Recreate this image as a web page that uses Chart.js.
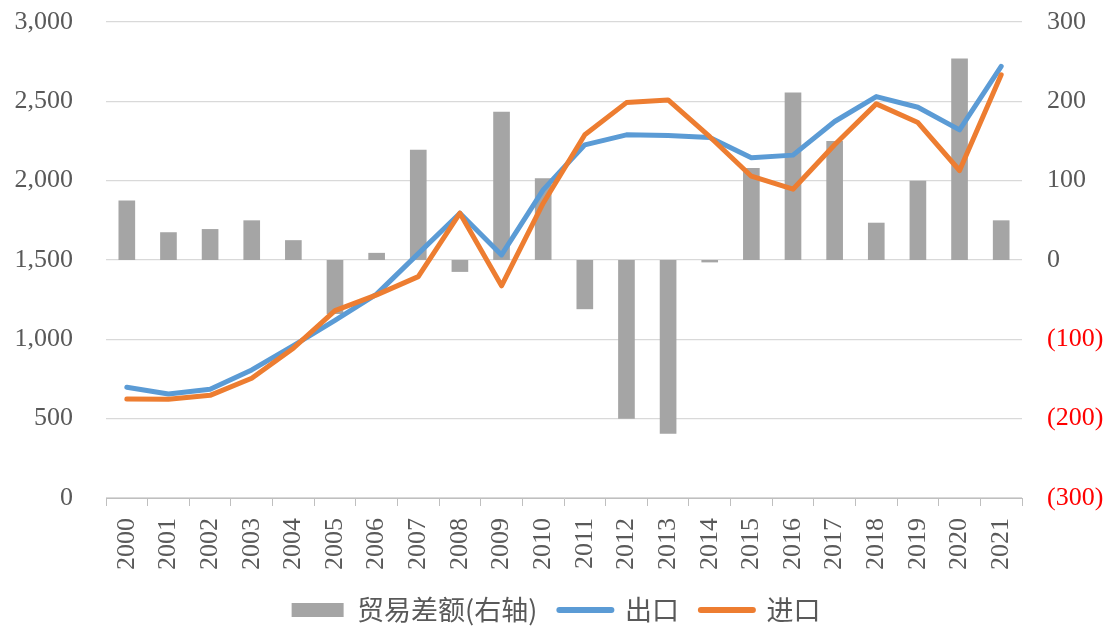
<!DOCTYPE html>
<html>
<head>
<meta charset="utf-8">
<script src="https://cdn.jsdelivr.net/npm/chart.js@4/dist/chart.umd.min.js"></script>
<style>
html,body{margin:0;padding:0;background:#fff;}
#c{display:block;}
</style>
</head>
<body>
<canvas id="c" width="1112" height="626"></canvas>
<script>
const years = ['2000','2001','2002','2003','2004','2005','2006','2007','2008','2009','2010','2011','2012','2013','2014','2015','2016','2017','2018','2019','2020','2021'];
const tradeBalance = [75,35,39,50,25,-68,9,139,-15,187,103,-62,-200,-219,-3,116,211,150,47,100,254,50];
const exportsV = [698,656,685,807,960,1120,1285,1540,1795,1532,1942,2226,2289,2285,2272,2144,2161,2373,2530,2463,2320,2720];
const importsV = [624,622,647,755,944,1181,1280,1395,1795,1337,1858,2289,2492,2509,2277,2028,1946,2226,2484,2366,2064,2667];
const seriesNames = ['贸易差额(右轴)','出口','进口'];

const GREY = '#a5a5a5', BLUE = '#5b9bd5', ORANGE = '#ed7d31', TXT = '#595959';
const serif = '"Liberation Serif","Times New Roman",serif';
const cjk = '"Noto Sans CJK SC","Noto Sans",sans-serif';

new Chart(document.getElementById('c'), {
  type: 'bar',
  data: {
    labels: years,
    datasets: [
      {label: seriesNames[0], data: tradeBalance, backgroundColor: GREY, yAxisID: 'y1', order: 2,
       barPercentage: 0.4, categoryPercentage: 1.0},
      {type: 'line', label: seriesNames[1], data: exportsV, borderColor: BLUE, backgroundColor: BLUE,
       borderWidth: 5, pointRadius: 0, tension: 0, yAxisID: 'y', order: 1, borderCapStyle: 'round', borderJoinStyle: 'round'},
      {type: 'line', label: seriesNames[2], data: importsV, borderColor: ORANGE, backgroundColor: ORANGE,
       borderWidth: 5, pointRadius: 0, tension: 0, yAxisID: 'y', order: 0, borderCapStyle: 'round', borderJoinStyle: 'round'}
    ]
  },
  options: {
    responsive: false,
    animation: false,
    layout: {padding: {top: 22, left: 0, right: 0, bottom: -7.5}},
    plugins: {
      tooltip: {enabled: false},
      legend: {
        position: 'bottom',
        labels: {
          font: {family: cjk, size: 27},
          color: TXT,
          usePointStyle: true,
          pointStyleWidth: 52,
          boxWidth: 52,
          boxHeight: 14,
          padding: 22,
          generateLabels: (chart) => {
            return [
              {text: seriesNames[0], fillStyle: GREY, strokeStyle: GREY, lineWidth: 0, pointStyle: 'rect', datasetIndex: 0, fontColor: TXT},
              {text: seriesNames[1], fillStyle: BLUE, strokeStyle: BLUE, lineWidth: 6, lineCap: 'round', pointStyle: 'line', datasetIndex: 1, fontColor: TXT},
              {text: seriesNames[2], fillStyle: ORANGE, strokeStyle: ORANGE, lineWidth: 6, lineCap: 'round', pointStyle: 'line', datasetIndex: 2, fontColor: TXT}
            ];
          }
        }
      }
    },
    scales: {
      x: {
        offset: true,
        grid: {display: true, offset: true, drawOnChartArea: false, drawTicks: true, tickLength: 8, color: '#bfbfbf'},
        border: {display: true, color: '#bfbfbf'},
        ticks: {font: {family: serif, size: 26}, color: TXT, minRotation: 90, maxRotation: 90, padding: 12, autoSkip: false},
        afterFit: (s) => { s.height = 76.5; s.paddingLeft = 0; s.paddingRight = 0; }
      },
      y: {
        position: 'left',
        min: 0, max: 3000,
        ticks: {stepSize: 500, font: {family: serif, size: 26}, color: TXT, padding: 33,
          callback: (v) => v.toLocaleString('en-US')},
        grid: {color: '#d9d9d9', lineWidth: 1.3, drawTicks: false},
        border: {display: false},
        afterFit: (s) => { s.width = 106; s.paddingTop = 0; s.paddingBottom = 0; }
      },
      y1: {
        position: 'right',
        min: -300, max: 300,
        ticks: {stepSize: 100, font: {family: serif, size: 26}, padding: 25,
          color: (ctx) => (ctx.tick && ctx.tick.value < 0) ? '#ff0000' : TXT,
          callback: (v) => v < 0 ? '(' + Math.abs(v) + ')' : String(v)},
        grid: {display: false, drawTicks: false},
        border: {display: false},
        afterFit: (s) => { s.width = 90; s.paddingTop = 0; s.paddingBottom = 0; }
      }
    }
  }
});
</script>
</body>
</html>
